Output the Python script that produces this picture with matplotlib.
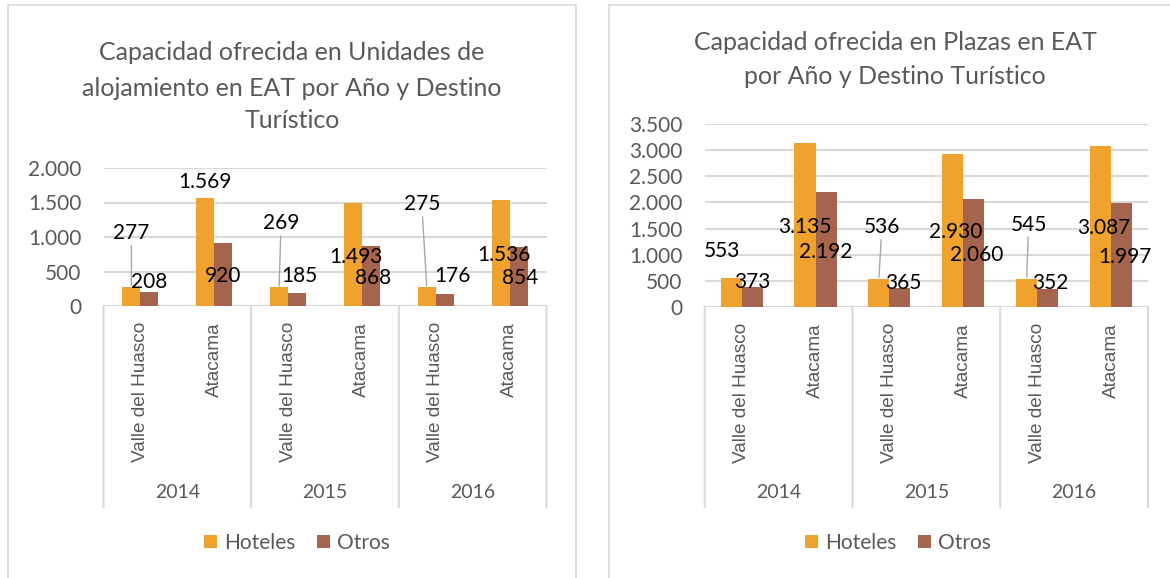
import matplotlib
matplotlib.use("Agg")
import matplotlib.pyplot as plt
from matplotlib.patches import Patch, Rectangle

# ---- data ----
years = ["2014", "2015", "2016"]
destinos = ["Valle del Huasco", "Atacama"]

unidades_hoteles = [277, 1569, 269, 1493, 275, 1536]
unidades_otros = [208, 920, 185, 868, 176, 854]

plazas_hoteles = [553, 3135, 536, 2930, 545, 3087]
plazas_otros = [373, 2192, 365, 2060, 352, 1997]

title_unidades = ["Capacidad ofrecida en Unidades de",
                  "alojamiento en EAT por Año y Destino",
                  "Turístico"]
title_plazas = ["Capacidad ofrecida en Plazas en EAT",
                "por Año y Destino Turístico"]

# ---- label placement (pixel offsets from bar top, like the moved Excel labels) ----
off_unidades_h = [(0, 54), (0, 16), (2, 64), (3, -54), (-5, 83), (3, -55)]
off_unidades_o = [(0, 10), (0, -33), (2, 17), (2, -32), (8, 18), (2, -31)]
lead_unidades_h = [True, False, True, False, True, False]

off_plazas_h = [(-9, 27), (0, -84), (3, 52), (3, -78), (2, 54), (3, -82)]
off_plazas_o = [(0, 5), (0, -60), (3, 5), (3, -56), (3, 6), (3, -54)]
lead_plazas_h = [False, False, True, False, True, False]

C_HOT = "#F0A22E"
C_OTR = "#A5644E"
GRID = "#D9D9D9"
GRAY_TXT = "#595959"
FONT = "Lato"

W, H = 1170, 578
fig = plt.figure(figsize=(W / 100, H / 100), dpi=100)
fig.patch.set_facecolor("white")


def fx(px):
    return px / W


def fy(py):
    return 1 - py / H


def fmt(v):
    return f"{v:,}".replace(",", ".")


def panel(rect_px, hot, otr, ymax, off_h, off_o, lead_h, bar_frac, title, title_x, title_ys, legend_x):
    x0, x1, ytop, ybot = rect_px
    ax = fig.add_axes([fx(x0), fy(ybot), fx(x1 - x0), (ybot - ytop) / H])
    n = len(hot)
    xs = list(range(n))
    xh = [x - bar_frac / 2 for x in xs]
    xo = [x + bar_frac / 2 for x in xs]
    ax.bar(xh, hot, width=bar_frac, color=C_HOT, zorder=3)
    ax.bar(xo, otr, width=bar_frac, color=C_OTR, zorder=3)
    ax.set_xlim(-0.5, n - 0.5)
    ax.set_ylim(0, ymax)
    ticks = list(range(0, ymax + 1, 500))
    ax.set_yticks(ticks)
    ax.set_yticklabels([fmt(t) for t in ticks], fontsize=15, color=GRAY_TXT, family=FONT)
    ax.tick_params(axis="y", length=0, pad=16)
    ax.set_xticks([])
    ax.grid(axis="y", color=GRID, lw=1.5, zorder=0)
    for s in ax.spines.values():
        s.set_visible(False)
    ax.axhline(0, color=GRID, lw=1.5, zorder=2)

    # data labels
    for i in range(n):
        for xv, v, off, lead in ((xh[i], hot[i], off_h[i], lead_h[i]),
                                 (xo[i], otr[i], off_o[i], False)):
            ap = dict(arrowstyle="-", color="#A6A6A6", lw=1, shrinkA=0, shrinkB=1) if lead else None
            ax.annotate(fmt(v), xy=(xv, v), xytext=off, textcoords="offset pixels",
                        ha="center", va="center", fontsize=15, family=FONT,
                        color="black", arrowprops=ap, zorder=5, annotation_clip=False)

    # category box below the axis
    depth = 507 - ybot
    tr = ax.get_xaxis_transform()
    for b in range(0, n + 1, 2):
        ax.annotate("", xy=(b - 0.5, 0), xycoords=tr, xytext=(0, -depth),
                    textcoords="offset pixels",
                    arrowprops=dict(arrowstyle="-", color=GRID, lw=1.5, shrinkA=0, shrinkB=0))
    for i in range(n):
        ax.annotate(destinos[i % 2], xy=(i, 0), xycoords=tr, xytext=(0, -16),
                    textcoords="offset pixels", rotation=90, ha="center", va="top",
                    fontsize=13.7, family="Liberation Sans", color=GRAY_TXT)
    for g, yr in enumerate(years):
        ax.annotate(yr, xy=(2 * g + 0.5, 0), xycoords=tr, xytext=(0, -(493 - ybot)),
                    textcoords="offset pixels", ha="center", va="center",
                    fontsize=14, family=FONT, color=GRAY_TXT)

    for line, ty in zip(title, title_ys):
        fig.text(fx(title_x), fy(ty), line, ha="center", va="center",
                 fontsize=18, family=FONT, color=GRAY_TXT)

    handles = [Patch(facecolor=C_HOT, edgecolor="none", label="Hoteles"),
               Patch(facecolor=C_OTR, edgecolor="none", label="Otros")]
    fig.legend(handles=handles, loc="center", bbox_to_anchor=(fx(legend_x), fy(543)),
               ncol=2, frameon=False, prop=dict(family=FONT, size=15),
               handlelength=0.63, handleheight=0.63, handletextpad=0.35,
               columnspacing=1.0, labelcolor=GRAY_TXT)
    return ax


# chart frames
fig.add_artist(Rectangle((fx(8), fy(600)), fx(576 - 8), (600 - 5) / H, fill=False,
                         edgecolor=GRID, lw=1.2, transform=fig.transFigure))
fig.add_artist(Rectangle((fx(609), fy(600)), fx(1200 - 609), (600 - 5) / H, fill=False,
                         edgecolor=GRID, lw=1.2, transform=fig.transFigure))

panel((103.5, 546.5, 168, 306), unidades_hoteles, unidades_otros, 2000,
      off_unidades_h, off_unidades_o, lead_unidades_h, 0.244,
      title_unidades, 292, [53, 88, 120], 297)
panel((704.7, 1148, 124, 307), plazas_hoteles, plazas_otros, 3500,
      off_plazas_h, off_plazas_o, lead_plazas_h, 0.285,
      title_plazas, 895, [43, 76], 898)

fig.savefig("out.png", dpi=100, facecolor="white")
